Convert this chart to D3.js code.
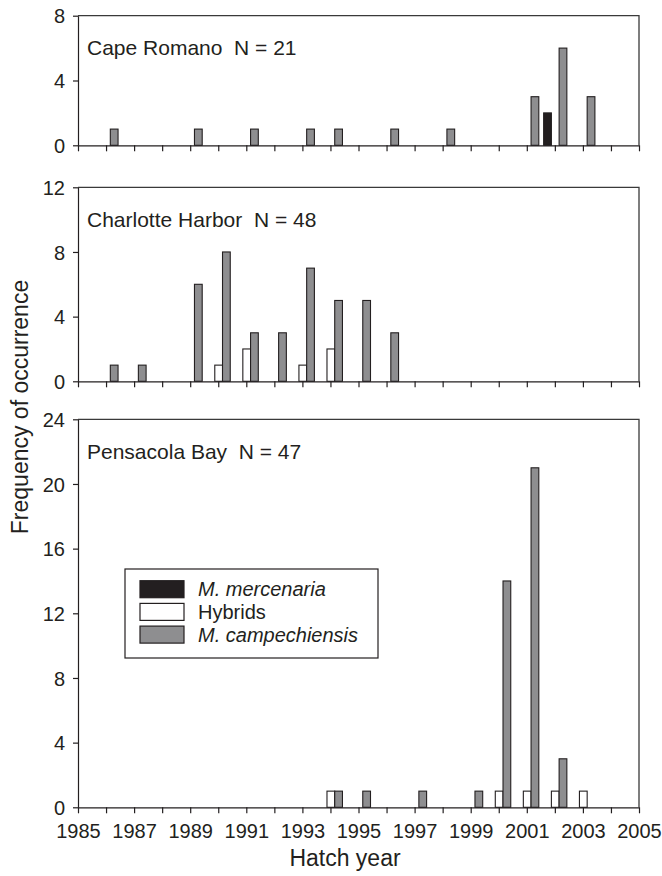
<!DOCTYPE html>
<html>
<head>
<meta charset="utf-8">
<script src="https://cdn.jsdelivr.net/npm/d3@7"></script>
<style>
  body { margin: 0; background: #fff; }
  svg { display: block; font-family: "Liberation Sans", Arial, sans-serif; }
  .axis text { font-size: 20px; fill: #231f20; }
  .axis path, .axis line { stroke: #231f20; stroke-width: 1.2; }
</style>
</head>
<body>
<svg id="chart" width="662" height="876"></svg>
<script>
// data (counts per hatch year, one entry per year 1985..2005)
var hatchYears = [1985, 1986, 1987, 1988, 1989, 1990, 1991, 1992, 1993, 1994, 1995,
    1996, 1997, 1998, 1999, 2000, 2001, 2002, 2003, 2004, 2005];
var yearLabels = [1985, 1987, 1989, 1991, 1993, 1995, 1997, 1999, 2001, 2003, 2005];
var seriesNames = ["M. mercenaria", "Hybrids", "M. campechiensis"];

var capeMerc = [0,0,0,0,0,0,0,0,0,0,0,0,0,0,0,0,0,2,0,0,0];
var capeHyb  = [0,0,0,0,0,0,0,0,0,0,0,0,0,0,0,0,0,0,0,0,0];
var capeCamp = [0,1,0,0,1,0,1,0,1,1,0,1,0,1,0,0,3,6,3,0,0];

var charMerc = [0,0,0,0,0,0,0,0,0,0,0,0,0,0,0,0,0,0,0,0,0];
var charHyb  = [0,0,0,0,0,1,2,0,1,2,0,0,0,0,0,0,0,0,0,0,0];
var charCamp = [0,1,1,0,6,8,3,3,7,5,5,3,0,0,0,0,0,0,0,0,0];

var pensMerc = [0,0,0,0,0,0,0,0,0,0,0,0,0,0,0,0,0,0,0,0,0];
var pensHyb  = [0,0,0,0,0,0,0,0,0,1,0,0,0,0,0,1,1,1,1,0,0];
var pensCamp = [0,0,0,0,0,0,0,0,0,1,1,0,1,0,1,14,21,3,0,0,0];

var capeTicks = [0, 4, 8];
var charTicks = [0, 4, 8, 12];
var pensTicks = [0, 4, 8, 12, 16, 20, 24];

var siteLabels = ["Cape Romano  N = 21", "Charlotte Harbor  N = 48", "Pensacola Bay  N = 47"];

// layout
var left = 78, right = 639;
var fills = { "M. mercenaria": "#231f20", "Hybrids": "#ffffff", "M. campechiensis": "#8e8e90" };

var x = d3.scaleLinear().domain([1985, 2005]).range([left, right]);
var xInner = d3.scaleBand().domain(seriesNames).range([-11.2, 12]);

var panels = [
    { label: siteLabels[0], ticks: capeTicks, y0: 145.3, y1: 15.7, counts: [capeMerc, capeHyb, capeCamp], showYears: false },
    { label: siteLabels[1], ticks: charTicks, y0: 381.3, y1: 187.3, counts: [charMerc, charHyb, charCamp], showYears: false },
    { label: siteLabels[2], ticks: pensTicks, y0: 807.3, y1: 419.3, counts: [pensMerc, pensHyb, pensCamp], showYears: true }
];

var svg = d3.select("#chart");

panels.forEach(function (p) {
    var y = d3.scaleLinear()
        .domain([0, d3.max(p.ticks)])
        .range([p.y0, p.y1]);

    // frame (top and right edges)
    svg.append("path")
        .attr("d", "M" + left + "," + p.y1 + "H" + right + "V" + p.y0)
        .attr("fill", "none")
        .attr("stroke", "#3a3a3a")
        .attr("stroke-width", 1.3);

    // bars
    var rows = [];
    seriesNames.forEach(function (s, si) {
        hatchYears.forEach(function (yr, i) {
            if (p.counts[si][i] > 0) rows.push({ series: s, year: yr, n: p.counts[si][i] });
        });
    });

    svg.append("g").selectAll("rect")
        .data(rows)
        .enter()
        .append("rect")
        .attr("x", function (d) { return x(d.year) + xInner(d.series); })
        .attr("y", function (d) { return y(d.n); })
        .attr("width", xInner.bandwidth())
        .attr("height", function (d) { return p.y0 - y(d.n); })
        .attr("fill", function (d) { return fills[d.series]; })
        .attr("stroke", "#231f20")
        .attr("stroke-width", 1.1);

    // y axis
    svg.append("g")
        .attr("class", "axis")
        .attr("transform", "translate(" + left + ",0)")
        .call(d3.axisLeft(y).tickValues(p.ticks).tickSize(5).tickSizeOuter(0).tickPadding(8))
        .selectAll("text")
        .attr("dy", "0.36em");

    // x axis
    svg.append("g")
        .attr("class", "axis")
        .attr("transform", "translate(0," + p.y0 + ")")
        .call(d3.axisBottom(x)
            .tickValues(hatchYears)
            .tickSize(6)
            .tickSizeOuter(0)
            .tickPadding(11)
            .tickFormat(function (d) {
                return (p.showYears && yearLabels.indexOf(d) >= 0) ? d : "";
            }));

    // site label
    svg.append("text")
        .attr("x", 87)
        .attr("y", p.y1 + 39.5)
        .style("white-space", "pre")
        .style("font-size", "21px")
        .attr("fill", "#231f20")
        .text(p.label);
});

// axis titles
svg.append("text")
    .attr("transform", "translate(28,407) rotate(-90)")
    .attr("text-anchor", "middle")
    .style("font-size", "23px")
    .attr("fill", "#231f20")
    .text("Frequency of occurrence");

svg.append("text")
    .attr("x", 345)
    .attr("y", 866)
    .attr("text-anchor", "middle")
    .style("font-size", "23px")
    .attr("fill", "#231f20")
    .text("Hatch year");

// legend
var legend = svg.append("g").attr("transform", "translate(125,569)");
legend.append("rect")
    .attr("width", 253)
    .attr("height", 89)
    .attr("fill", "#fff")
    .attr("stroke", "#231f20")
    .attr("stroke-width", 1.2);

var item = legend.selectAll("g.item")
    .data(seriesNames)
    .enter()
    .append("g")
    .attr("class", "item")
    .attr("transform", function (d, i) { return "translate(15," + (11.7 + i * 22.7) + ")"; });

item.append("rect")
    .attr("width", 44)
    .attr("height", 17)
    .attr("fill", function (d) { return fills[d]; })
    .attr("stroke", "#231f20")
    .attr("stroke-width", 1.2);

item.append("text")
    .attr("x", 58)
    .attr("y", 8.5)
    .attr("dy", "0.36em")
    .style("font-size", "20px")
    .style("font-style", function (d) { return d == "Hybrids" ? "normal" : "italic"; })
    .attr("fill", "#231f20")
    .text(function (d) { return d; });
</script>
</body>
</html>
